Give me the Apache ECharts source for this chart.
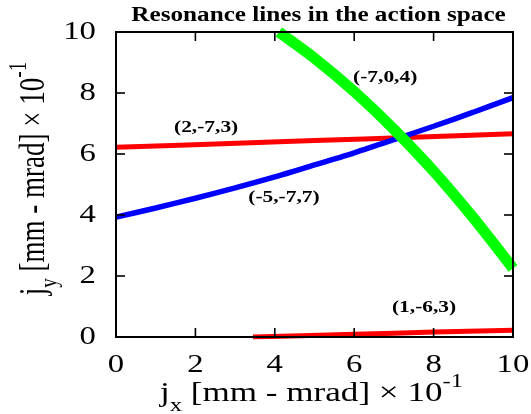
<!DOCTYPE html>
<html>
<head>
<meta charset="utf-8">
<script src="https://cdn.jsdelivr.net/npm/echarts@6/dist/echarts.min.js"></script>
<style>
  html, body { margin: 0; padding: 0; background: #fff; }
  #chart { width: 531px; height: 414px; }
</style>
</head>
<body>
<div id="chart"></div>
<script>
// Axis ticks
const xTicks = [0, 2, 4, 6, 8, 10];
const yTicks = [0, 2, 4, 6, 8, 10];

// Resonance (2,-7,3)
const res273X = [0, 2.5, 5, 7.5, 10];
const res273Y = [6.22, 6.33, 6.44, 6.55, 6.66];

// Resonance (-5,-7,7)
const res577X = [0, 1, 2, 3, 4, 5, 6, 7, 8, 9, 10];
const res577Y = [3.93, 4.23, 4.55, 4.89, 5.25, 5.64, 6.04, 6.47, 6.91, 7.37, 7.85];

// Resonance (-7,0,4)
const res704X = [4.1, 5, 6, 7, 8, 9, 10];
const res704Y = [10, 9.14, 8.05, 6.81, 5.44, 3.91, 2.25];

// Resonance (1,-6,3)
const res163X = [3.45, 6, 8, 10];
const res163Y = [0.0, 0.09, 0.16, 0.22];

// Resonance names and where they are written (data coordinates)
const resNames = ['(2,-7,3)', '(-5,-7,7)', '(-7,0,4)', '(1,-6,3)'];
const resNameAt = [[2.27, 6.85], [4.23, 4.56], [6.78, 8.49], [7.76, 0.98]];

const pairs = (xs, ys) => xs.map((x, i) => [x, ys[i]]);

const serif = '"Liberation Serif", "Times New Roman", serif';
// Lettering in this figure is drawn slightly wide
const WIDE = 1.26;
const WIDE_TITLE = 1.3;
const TICK_LEN = 9;
const TICK_W = 1.6;

const chart = echarts.init(document.getElementById('chart'), null, { renderer: 'canvas' });

function lineSeries(name, xs, ys, color, width) {
  return {
    name: name,
    type: 'line',
    data: pairs(xs, ys),
    smooth: 0.3,
    showSymbol: false,
    symbol: 'none',
    clip: true,
    lineStyle: { color: color, width: width, cap: 'butt' },
    animation: false
  };
}

// Inward tick marks on opposite sides of the frame, drawn at the axis values
function tickSeries(values, onX) {
  return {
    type: 'custom',
    silent: true,
    animation: false,
    z: 20,
    data: values.filter(v => v > 0 && v < 10).map(v => (onX ? [v, 0] : [0, v])),
    renderItem: function (params, api) {
      const style = { stroke: '#000', lineWidth: TICK_W, fill: null };
      if (onX) {
        const v = api.value(0);
        const b = api.coord([v, 0]);
        const t = api.coord([v, 10]);
        return { type: 'group', children: [
          { type: 'line', shape: { x1: b[0], y1: b[1], x2: b[0], y2: b[1] - TICK_LEN }, style: style },
          { type: 'line', shape: { x1: t[0], y1: t[1], x2: t[0], y2: t[1] + TICK_LEN }, style: style }
        ] };
      }
      const v = api.value(1);
      const l = api.coord([0, v]);
      const r = api.coord([10, v]);
      return { type: 'group', children: [
        { type: 'line', shape: { x1: l[0], y1: l[1], x2: l[0] + TICK_LEN, y2: l[1] }, style: style },
        { type: 'line', shape: { x1: r[0], y1: r[1], x2: r[0] - TICK_LEN, y2: r[1] }, style: style }
      ] };
    }
  };
}

chart.setOption({
  backgroundColor: '#fff',
  animation: false,
  grid: { left: 116, right: 18, top: 32, bottom: 77 },
  xAxis: {
    type: 'value', min: 0, max: 10, interval: 2,
    axisLine: { show: false }, axisTick: { show: false },
    splitLine: { show: false }, axisLabel: { show: false }
  },
  yAxis: {
    type: 'value', min: 0, max: 10, interval: 2,
    axisLine: { show: false }, axisTick: { show: false },
    splitLine: { show: false }, axisLabel: { show: false }
  },
  series: [
    lineSeries('(2,-7,3)', res273X, res273Y, '#ff0000', 5),
    lineSeries('(1,-6,3)', res163X, res163Y, '#ff0000', 5),
    lineSeries('(-5,-7,7)', res577X, res577Y, '#0000ff', 5.5),
    lineSeries('(-7,0,4)', res704X, res704Y, '#00ff00', 11),
    tickSeries(xTicks, true),
    tickSeries(yTicks, false)
  ]
});

// Frame, tick labels and lettering, placed through the axes' own scales
const toPx = (x, y) => chart.convertToPixel({ xAxisIndex: 0, yAxisIndex: 0 }, [x, y]);
const plotLeft = toPx(0, 0)[0];
const plotRight = toPx(10, 0)[0];
const plotTop = toPx(0, 10)[1];
const plotBottom = toPx(0, 0)[1];
const midX = (plotLeft + plotRight) / 2;
const midY = (plotTop + plotBottom) / 2;

const measureCtx = document.createElement('canvas').getContext('2d');
function textWidth(font, text) {
  measureCtx.font = font;
  return measureCtx.measureText(text).width;
}

function wideText(x, y, text, font, align) {
  return {
    type: 'text', x: x, y: y, scaleX: WIDE, silent: true, z: 100,
    style: { text: text, font: font, fill: '#000', align: align || 'center', verticalAlign: 'middle',
             textAlign: align || 'center', textVerticalAlign: 'middle' }
  };
}

function bar(x, y, w, h) {
  return {
    type: 'rect', silent: true, z: 60,
    shape: { x: x, y: y, width: w, height: h },
    style: { fill: '#000' }
  };
}

// Axis title with subscript and superscript, as a group of text pieces centred on (0,0)
function axisTitle(sub) {
  const big = '27px ' + serif;
  const small = '19px ' + serif;
  const pieces = [
    { t: 'j', font: big, dy: 0 },
    { t: sub, font: small, dy: 12 },
    { t: ' [mm - mrad] × 10', font: big, dy: 0 },
    { t: '-1', font: small, dy: -12 }
  ];
  const widths = pieces.map(p => textWidth(p.font, p.t));
  const total = widths.reduce((a, b) => a + b, 0);
  let cx = -total / 2;
  return pieces.map((p, i) => {
    const el = {
      type: 'text', x: cx, y: p.dy, silent: true,
      style: { text: p.t, font: p.font, fill: '#000', align: 'left', verticalAlign: 'middle',
               textAlign: 'left', textVerticalAlign: 'middle' }
    };
    cx += widths[i];
    return el;
  });
}

const graphics = [];

// Frame around the plot
const BW = 2;
graphics.push(bar(plotLeft - BW / 2, plotTop - BW / 2, plotRight - plotLeft + BW, BW));
graphics.push(bar(plotLeft - BW / 2, plotBottom - BW / 2, plotRight - plotLeft + BW, BW));
graphics.push(bar(plotLeft - BW / 2, plotTop - BW / 2, BW, plotBottom - plotTop + BW));
graphics.push(bar(plotRight - BW / 2, plotTop - BW / 2, BW, plotBottom - plotTop + BW));

// Title
graphics.push(wideText(midX + 4, 16, 'Resonance lines in the action space', 'bold 20px ' + serif));

// Tick labels on the bottom and left
xTicks.forEach(v => {
  graphics.push(wideText(toPx(v, 0)[0], plotBottom + 28, String(v), '26px ' + serif));
});
yTicks.forEach(v => {
  graphics.push(wideText(plotLeft - 20, toPx(0, v)[1], String(v), '26px ' + serif, 'right'));
});

// Axis titles
graphics.push({
  type: 'group', x: midX - 3, y: plotBottom + 57, scaleX: WIDE_TITLE, z: 100,
  children: axisTitle('x')
});
graphics.push({
  type: 'group', x: 35, y: midY - 6, rotation: Math.PI / 2, scaleY: WIDE_TITLE, z: 100,
  children: axisTitle('y')
});

// Resonance names
resNames.forEach((n, i) => {
  const p = toPx(resNameAt[i][0], resNameAt[i][1]);
  graphics.push(wideText(p[0], p[1], n, 'bold 17px ' + serif));
});

chart.setOption({ graphic: graphics });
</script>
</body>
</html>
